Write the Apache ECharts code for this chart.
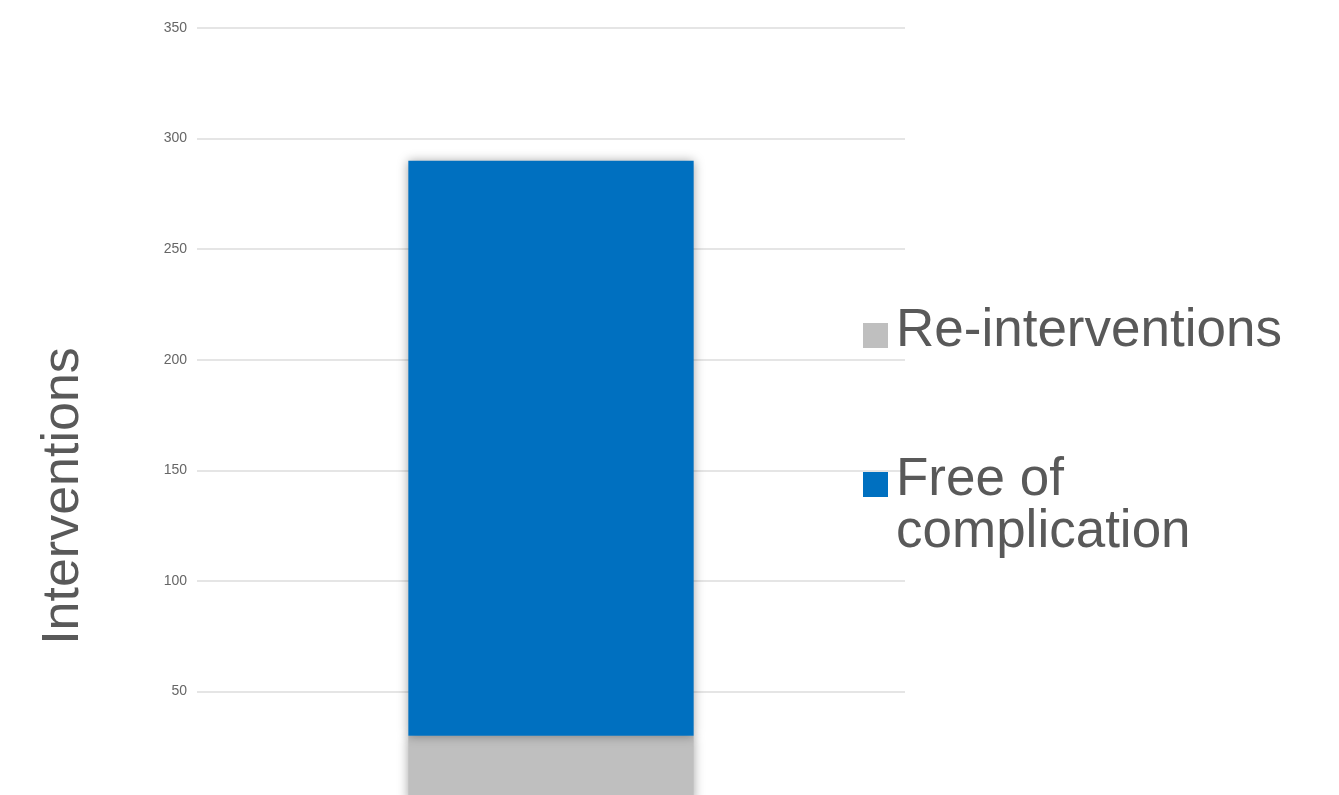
<!DOCTYPE html>
<html>
<head>
<meta charset="utf-8">
<script src="https://cdn.jsdelivr.net/npm/echarts@6/dist/echarts.min.js"></script>
<style>
html,body{margin:0;padding:0;background:#fff;}
#chart{width:1339px;height:795px;}
</style>
</head>
<body>
<div id="chart"></div>
<script>
var categories = [''];
var reInterventions = [30];
var freeOfComplication = [260];
var seriesNames = ['Re-interventions', 'Free of complication'];
var yAxisName = 'Interventions';
var yMin = 0, yMax = 350, yInterval = 50;

var font = "'Liberation Sans', Arial, Helvetica, sans-serif";
var chart = echarts.init(document.getElementById('chart'));
var barShadow = { shadowBlur: 10, shadowColor: 'rgba(0,0,0,0.35)', shadowOffsetX: 0, shadowOffsetY: 0 };
var legendRich = {
  a: { color: '#595959', fontSize: 53, fontFamily: font, lineHeight: 52, padding: [0, 0, 0, 3] },
  s: { fontSize: 8, lineHeight: 8 }
};

chart.setOption({
  animation: false,
  grid: { left: 197, top: 28, width: 708, height: 774, outerBoundsMode: 'none', containLabel: false },
  xAxis: {
    type: 'category',
    data: categories,
    axisLine: { show: false },
    axisTick: { show: false },
    axisLabel: { show: false },
    splitLine: { show: false }
  },
  yAxis: {
    type: 'value',
    min: yMin, max: yMax, interval: yInterval,
    axisLine: { show: false },
    axisTick: { show: false },
    axisLabel: { color: '#666', fontSize: 14, fontFamily: font, margin: 10 },
    splitLine: { lineStyle: { color: '#dcdcdc', width: 1.5 } }
  },
  legend: [
    {
      data: [seriesNames[0]],
      left: 863, top: 305, padding: 0,
      icon: 'rect', itemWidth: 25, itemHeight: 25,
      selectedMode: false,
      formatter: function (n) { return '{a|' + n + '}\n{s| }'; },
      itemStyle: { shadowBlur: 0, shadowColor: 'transparent' },
      textStyle: { color: '#595959', fontSize: 53, fontFamily: font, rich: legendRich }
    },
    {
      data: [seriesNames[1]],
      left: 863, top: 402, padding: 0,
      icon: 'rect', itemWidth: 25, itemHeight: 25,
      selectedMode: false,
      formatter: function (n) {
        var parts = n.split(' complication');
        return '{a| }\n{a|' + parts[0] + '}\n{a|complication}\n{s| }';
      },
      itemStyle: { shadowBlur: 0, shadowColor: 'transparent' },
      textStyle: { color: '#595959', fontSize: 53, fontFamily: font, rich: legendRich }
    }
  ],
  graphic: [{
    type: 'text',
    x: 64, y: 496,
    rotation: Math.PI / 2,
    style: {
      text: yAxisName,
      fill: '#595959',
      font: '52px ' + font,
      textAlign: 'center',
      textVerticalAlign: 'middle'
    }
  }],
  series: [
    {
      name: seriesNames[0], type: 'bar', stack: 'total', barWidth: '40.3%',
      data: reInterventions,
      itemStyle: Object.assign({ color: '#bfbfbf' }, barShadow)
    },
    {
      name: seriesNames[1], type: 'bar', stack: 'total', barWidth: '40.3%',
      data: freeOfComplication,
      itemStyle: Object.assign({ color: '#0070c0' }, barShadow)
    }
  ]
});
</script>
</body>
</html>
